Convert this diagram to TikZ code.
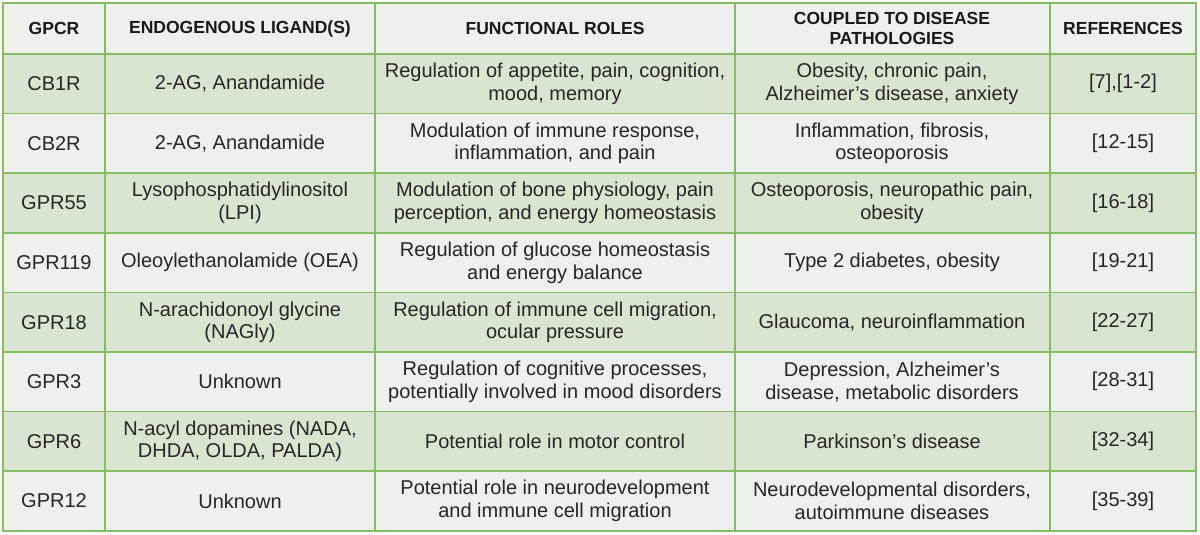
\documentclass[tikz,border=0pt]{standalone}
\usepackage{fontspec}
\setmainfont{Liberation Sans}
\definecolor{gridGreen}{HTML}{86BC63}
\definecolor{rowDark}{HTML}{D9E5D1}
\definecolor{rowLight}{HTML}{EEF1EB}
\begin{document}
\begin{tikzpicture}
[x=1pt,y=-1pt,
  cellText/.style={align=center,font=\fontsize{20}{22.5}\selectfont,text=black!85},%
  headText/.style={align=center,font=\bfseries\fontsize{17.5}{20}\selectfont,text=black!90},%
  gridLine/.style={gridGreen,line width=1.6pt}]
\useasboundingbox (0,0) rectangle (1200,535);
\fill[white] (0,0) rectangle (1200,535);
%% row backgrounds
\fill[rowLight] (3,3) rectangle (1196,54);
\foreach \r in {0,...,7}
{
  \pgfmathsetmacro{\ytop}{54+\r*59.6}
  \pgfmathtruncatemacro{\odd}{mod(\r,2)}
  \ifnum\odd=0 \def\rowcol{rowDark}\else\def\rowcol{rowLight}\fi
  \fill[\rowcol] (3,\ytop) rectangle (1196,\ytop+59.6);
}
%% header
\foreach \name/\x/\txt in {
  hA/54/GPCR, hB/240/ENDOGENOUS LIGAND(S), hC/555/FUNCTIONAL ROLES,
  hD/892/{COUPLED TO DISEASE\\PATHOLOGIES}, hE/1123/REFERENCES}
{
  \node[headText] (\name) at (\x,28.5) {\txt};
}
%% body cells
\foreach \r/\gpcr/\lig/\role/\dis/\refs in {
  0/CB1R/{2-AG, Anandamide}/{Regulation of appetite, pain, cognition,\\mood, memory}/{Obesity, chronic pain,\\Alzheimer{\char"27}s disease, anxiety}/{[7],[1-2]},
  1/CB2R/{2-AG, Anandamide}/{Modulation of immune response,\\inflammation, and pain}/{Inflammation, fibrosis,\\osteoporosis}/{[12-15]},
  2/GPR55/{Lysophosphatidylinositol\\(LPI)}/{Modulation of bone physiology, pain\\perception, and energy homeostasis}/{Osteoporosis, neuropathic pain,\\obesity}/{[16-18]},
  3/GPR119/{Oleoylethanolamide (OEA)}/{Regulation of glucose homeostasis\\and energy balance}/{Type 2 diabetes, obesity}/{[19-21]},
  4/GPR18/{N-arachidonoyl glycine\\(NAGly)}/{Regulation of immune cell migration,\\ocular pressure}/{Glaucoma, neuroinflammation}/{[22-27]},
  5/GPR3/{Unknown}/{Regulation of cognitive processes,\\potentially involved in mood disorders}/{Depression, Alzheimer’s\\disease, metabolic disorders}/{[28-31]},
  6/GPR6/{N-acyl dopamines (NADA,\\DHDA, OLDA, PALDA)}/{Potential role in motor control}/{Parkinson’s disease}/{[32-34]},
  7/GPR12/{Unknown}/{Potential role in neurodevelopment\\and immune cell migration}/{Neurodevelopmental disorders,\\autoimmune diseases}/{[35-39]}}
{
  \pgfmathsetmacro{\ymid}{54+\r*59.6+29.8}
  \node[cellText] (g\r) at (54,\ymid) {\gpcr};
  \node[cellText] (l\r) at (240,\ymid) {\lig};
  \node[cellText] (f\r) at (555,\ymid) {\role};
  \node[cellText] (d\r) at (892,\ymid) {\dis};
  \node[cellText] (ref\r) at (1123,\ymid) {\refs};
}
%% grid
\foreach \x in {105,375,735,1050}
  \draw[gridLine] (\x,3) -- (\x,531);
\foreach \r in {0,...,7}
  \draw[gridLine] (3,54+\r*59.6) -- (1196,54+\r*59.6);
\draw[gridLine] (3,3) rectangle (1196,531);
\end{tikzpicture}
\end{document}
